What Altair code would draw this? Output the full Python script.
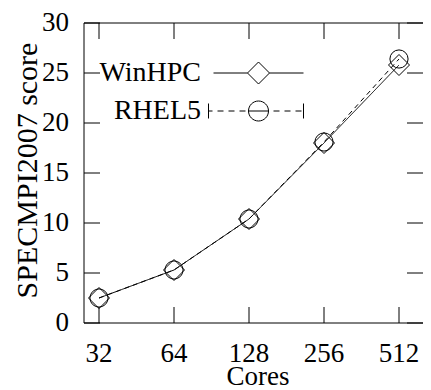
import altair as alt
import pandas as pd

cores = [32, 64, 128, 256, 512]
winhpc = [2.5, 5.3, 10.4, 18.0, 25.8]
rhel5 = [2.5, 5.3, 10.4, 18.1, 26.4]
series = ["WinHPC", "RHEL5"]
y_ticks = [0, 5, 10, 15, 20, 25, 30]
x_title = "Cores"
y_title = "SPECMPI2007 score"

rows = []
for name, vals in zip(series, [winhpc, rhel5]):
    for c, v in zip(cores, vals):
        rows.append({"cores": c, "score": v, "series": name})
df = pd.DataFrame(rows)

W, H = 339, 300
PX_PER_OCT = 75.0
TICK = 16
FONT = "Liberation Serif, Times New Roman, Times, Nimbus Roman, DejaVu Serif, serif"
x_dom = [32 * 2 ** (-0.2), 512 * 2 ** ((W - 315) / PX_PER_OCT)]
y_dom = [0, 30]

# inward tick segments along the four edges (lengths in scale units = 16 px)
kx = 2 ** (TICK / PX_PER_OCT)
ky = TICK * (y_dom[1] - y_dom[0]) / H
yt_rows = []
for v in y_ticks:
    yt_rows.append({"cores": x_dom[0], "cores2": x_dom[0] * kx, "score": v})
    yt_rows.append({"cores": x_dom[1] / kx, "cores2": x_dom[1], "score": v})
yt_df = pd.DataFrame(yt_rows)
xt_rows = []
for c in cores:
    xt_rows.append({"cores": c, "score": y_dom[0], "score2": y_dom[0] + ky})
    xt_rows.append({"cores": c, "score": y_dom[1] - ky, "score2": y_dom[1]})
xt_df = pd.DataFrame(xt_rows)

xl_df = pd.DataFrame({"cores": cores, "score": [y_dom[0]] * len(cores),
                      "label": [str(c) for c in cores]})
yl_df = pd.DataFrame({"cores": [x_dom[0]] * len(y_ticks), "score": y_ticks,
                      "label": [str(v) for v in y_ticks]})
hline_df = pd.DataFrame({"score": y_dom})
vline_df = pd.DataFrame({"cores": [x_dom[0]]})

xs = alt.Scale(type="log", base=2, domain=x_dom, nice=False)
ys = alt.Scale(domain=y_dom, nice=False)


def X():
    return alt.X("cores:Q", scale=xs, axis=None)


def Y():
    return alt.Y("score:Q", scale=ys, axis=None)


base = alt.Chart(df)

lines = base.mark_line(color="black", strokeWidth=1).encode(
    x=X(), y=Y(),
    strokeDash=alt.StrokeDash("series:N", scale=alt.Scale(domain=series, range=[[1, 0], [5, 4]]), legend=None),
)

points = base.mark_point(color="black", filled=False, strokeWidth=1, opacity=1).encode(
    x=X(), y=Y(),
    shape=alt.Shape("series:N", scale=alt.Scale(domain=series, range=["diamond", "circle"]), legend=None),
    size=alt.Size("series:N", scale=alt.Scale(domain=series, range=[441, 330]), legend=None),
)

y_tick_rules = alt.Chart(yt_df).mark_rule(color="black", strokeWidth=1).encode(
    x=X(), x2="cores2:Q", y=Y())
x_tick_rules = alt.Chart(xt_df).mark_rule(color="black", strokeWidth=1).encode(
    x=X(), y=Y(), y2="score2:Q")
h_frame = alt.Chart(hline_df).mark_rule(color="black", strokeWidth=1).encode(y=Y())
v_frame = alt.Chart(vline_df).mark_rule(color="black", strokeWidth=1).encode(x=X())

x_labels = alt.Chart(xl_df).mark_text(font=FONT, fontSize=27, color="black",
                                      align="center", baseline="alphabetic", dy=39).encode(
    x=X(), y=Y(), text="label:N")
y_labels = alt.Chart(yl_df).mark_text(font=FONT, fontSize=27, color="black",
                                      align="right", baseline="middle", dx=-15).encode(
    x=X(), y=Y(), text="label:N")

x_title_mark = alt.Chart(pd.DataFrame({"t": [x_title]})).mark_text(
    font=FONT, fontSize=27, color="black", align="center", baseline="alphabetic").encode(
    x=alt.value(174), y=alt.value(H + 62), text="t:N")
y_title_mark = alt.Chart(pd.DataFrame({"t": [y_title]})).mark_text(
    font=FONT, fontSize=30, color="black", align="center", baseline="alphabetic", angle=270).encode(
    x=alt.value(-47), y=alt.value(147.5), text="t:N")

path_w = "M-4.5,0L-1.1,0M1.1,0L4.5,0M-1.1,0L0,-1.1L1.1,0L0,1.1Z"
path_r = ("M-5,-0.75L-5,0.75M-5,0L-4.6,0M-4.1,0L-3.5,0M-3.0,0L-2.4,0M-1.9,0L-1.3,0"
          "M-1,0L1,0M1.5,0L2.1,0M2.6,0L3.2,0M3.7,0L4.3,0M4.5,-0.75L4.5,0.75"
          "M1,0A1,1,0,1,1,-1,0A1,1,0,1,1,1,0")

legend_layer = base.mark_point(color="black", filled=False, opacity=0).encode(
    x=X(), y=Y(),
    shape=alt.Shape(
        "series:N",
        scale=alt.Scale(domain=series, range=[path_w, path_r]),
        sort=series,
        legend=alt.Legend(
            title=None, orient="none", legendX=160.5, legendY=36,
            symbolSize=400, symbolStrokeWidth=1, symbolStrokeColor="black",
            symbolFillColor="transparent", symbolOpacity=1,
            labelFont=FONT, labelFontSize=28, labelColor="black",
            labelAlign="right", labelOffset={"expr": "-71.5"}, labelLimit=300,
            rowPadding=10, padding=0,
        ),
    ),
)

chart = alt.layer(
    lines, points, y_tick_rules, x_tick_rules, h_frame, v_frame,
    x_labels, y_labels, x_title_mark, y_title_mark, legend_layer,
).resolve_scale(
    shape="independent"
).properties(
    width=W, height=H,
    autosize=alt.AutoSizeParams(type="none"),
    padding={"left": 76, "top": 15, "right": 0, "bottom": 67},
    background="white",
).configure_view(stroke=None)

chart.save("out.html", embed_options={"renderer": "svg", "actions": False})
